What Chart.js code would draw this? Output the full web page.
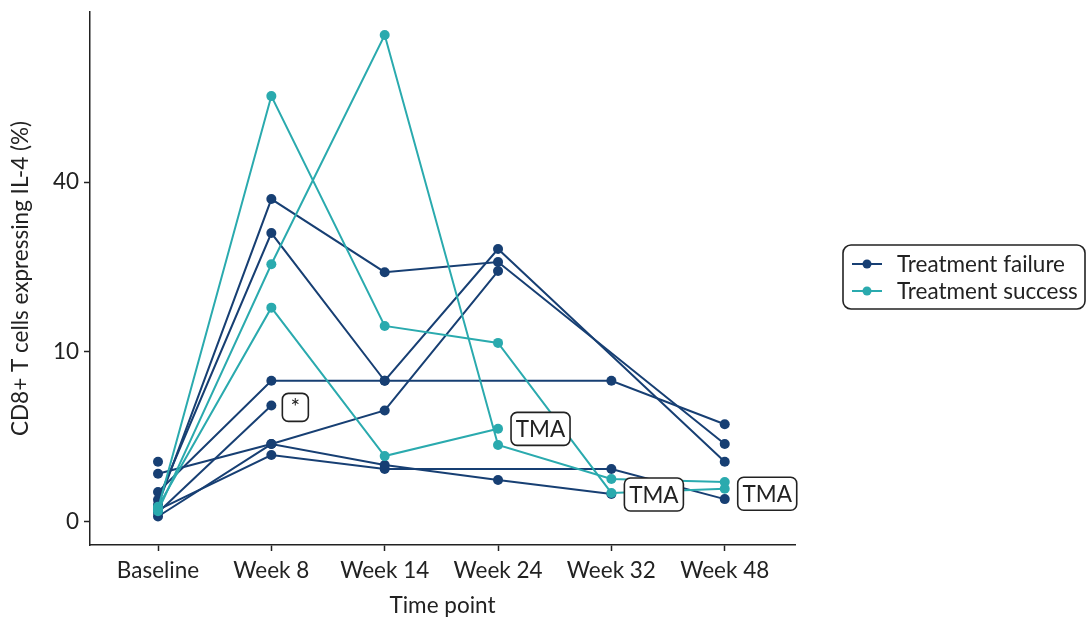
<!DOCTYPE html>
<html>
<head>
<meta charset="utf-8">
<script src="https://cdn.jsdelivr.net/npm/chart.js@4"></script>
<style>
  body { margin: 0; background: #fff; }
  #wrap { width: 1086px; height: 619px; position: relative; }
</style>
</head>
<body>
<div id="wrap"><canvas id="chart"></canvas></div>
<script>
const categories = ["Baseline", "Week 8", "Week 14", "Week 24", "Week 32", "Week 48"];
const yTickValues = [0, 10, 40];

// Treatment failure patients (null = no sample at that time point)
const failure1 = [0.10, 36.1, 21.6, 23.4, null, 2.1];
const failure2 = [0.17, 28.9, 6.9, 25.8, null, 1.25];
const failure3 = [0.31, 6.9, 6.9, null, 6.9, 3.3];
const failure4 = [0.03, 4.7];
const failure5 = [0.80, 2.1, 4.3, 21.8];
const failure6 = [0.01, 2.1, 1.12, 0.61, 0.27];
const failure7 = [0.05, 1.55, 0.97, null, 0.97, 0.18];
const failure8 = [1.25];

// Treatment success patients
const success1 = [0.06, 62.8, 13.3, 11.1, 0.29, 0.38];
const success2 = [0.04, 23.0, 82.1, 2.05, 0.64, 0.55];
const success3 = [0.08, 15.9, 1.5, 3.0];

const failureSeries = [failure1, failure2, failure3, failure4, failure5, failure6, failure7, failure8];
const successSeries = [success1, success2, success3];

// labels next to some points: series, time point index, text
const notes = [
    { series: failure4, idx: 1, text: "*" },
    { series: success3, idx: 3, text: "TMA" },
    { series: success1, idx: 4, text: "TMA" },
    { series: success1, idx: 5, text: "TMA" }
];

const navy = "#173f73";
const teal = "#2aaaae";
const ink = "#222222";
const fontFamily = "Lato, 'Noto Sans', sans-serif";
const fontSize = 22.5;

// y axis is square-root scaled; missing samples are skipped so the line joins across
function toPoints(vals) {
    var pts = [];
    vals.forEach((v, i) => { if (v != null) pts.push({ x: i, y: Math.sqrt(v) }); });
    return pts;
}

function makeSet(vals, colour, label, order) {
    return {
        label: label,
        data: toPoints(vals),
        borderColor: colour,
        backgroundColor: colour,
        borderWidth: 2,
        pointRadius: 5,
        pointBorderWidth: 0,
        pointHoverRadius: 5,
        order: order
    };
}

var datasets = [];
failureSeries.forEach(s => datasets.push(makeSet(s, navy, "Treatment failure", 1)));
successSeries.forEach(s => datasets.push(makeSet(s, teal, "Treatment success", 0)));

function roundRect(ctx, x, y, w, h, r) {
    ctx.beginPath();
    ctx.moveTo(x + r, y);
    ctx.arcTo(x + w, y, x + w, y + h, r);
    ctx.arcTo(x + w, y + h, x, y + h, r);
    ctx.arcTo(x, y + h, x, y, r);
    ctx.arcTo(x, y, x + w, y, r);
    ctx.closePath();
}

const extras = {
    id: "extras",
    afterDraw(chart) {
        const ctx = chart.ctx;
        const xs = chart.scales.x, ys = chart.scales.y;
        ctx.save();

        // point notes
        notes.forEach(n => {
            const px = xs.getPixelForValue(n.idx);
            const py = ys.getPixelForValue(Math.sqrt(n.series[n.idx]));
            ctx.font = fontSize + "px " + fontFamily;
            const isStar = n.text === "*";
            const w = isStar ? 26 : 59, h = isStar ? 28 : 33;
            const bx = px + (isStar ? 11 : 13);
            const by = py - h / 2 + (isStar ? 2 : (n.idx === 3 ? 0 : (n.idx === 4 ? 1.5 : 5)));
            roundRect(ctx, bx, by, w, h, 6);
            ctx.fillStyle = "#fff";
            ctx.fill();
            ctx.lineWidth = 1.6;
            ctx.strokeStyle = ink;
            ctx.stroke();
            ctx.fillStyle = ink;
            ctx.textAlign = "center";
            ctx.textBaseline = isStar ? "top" : "middle";
            ctx.fillText(n.text, bx + w / 2, isStar ? by + 3 : by + h / 2 + 1);
        });

        // legend
        const lx = chart.chartArea.right + 48, ly = 245;
        roundRect(ctx, lx, ly, 242, 64, 8);
        ctx.fillStyle = "#fff";
        ctx.fill();
        ctx.lineWidth = 1.6;
        ctx.strokeStyle = ink;
        ctx.stroke();
        [[navy, "Treatment failure"], [teal, "Treatment success"]].forEach((e, i) => {
            const cy = ly + 19 + i * 27;
            ctx.strokeStyle = e[0];
            ctx.lineWidth = 2;
            ctx.beginPath();
            ctx.moveTo(lx + 9, cy);
            ctx.lineTo(lx + 39, cy);
            ctx.stroke();
            ctx.fillStyle = e[0];
            ctx.beginPath();
            ctx.arc(lx + 24, cy, 4.5, 0, Math.PI * 2);
            ctx.fill();
            ctx.fillStyle = ink;
            ctx.font = fontSize + "px " + fontFamily;
            ctx.textAlign = "left";
            ctx.textBaseline = "middle";
            ctx.fillText(e[1], lx + 54, cy + 1);
        });
        ctx.restore();
    }
};

new Chart(document.getElementById("chart"), {
    type: "line",
    data: { datasets: datasets },
    plugins: [extras],
    options: {
        responsive: true,
        maintainAspectRatio: false,
        animation: false,
        events: [],
        layout: { padding: { top: 0, right: 291, bottom: 0, left: 0 } },
        plugins: { legend: { display: false }, tooltip: { enabled: false } },
        scales: {
            x: {
                type: "linear",
                min: -0.6,
                max: 5.62,
                afterBuildTicks: s => { s.ticks = categories.map((c, i) => ({ value: i })); },
                afterFit: s => { s.height = 74; },
                ticks: {
                    color: ink,
                    font: { family: fontFamily, size: fontSize },
                    padding: 6,
                    maxRotation: 0,
                    callback: v => categories[v]
                },
                grid: { drawOnChartArea: false, tickLength: 6, color: ink, tickWidth: 1.5 },
                border: { display: true, color: ink, width: 1.5 },
                title: {
                    display: true,
                    text: "Time point",
                    color: ink,
                    font: { family: fontFamily, size: fontSize },
                    padding: { top: 0, bottom: 0 }
                }
            },
            y: {
                type: "linear",
                min: -0.43,
                max: 9.49,
                afterBuildTicks: s => { s.ticks = yTickValues.map(v => ({ value: Math.sqrt(v) })); },
                afterFit: s => { s.width = 90; s.paddingTop = 12; s.paddingBottom = 0; },
                ticks: {
                    color: ink,
                    font: { family: fontFamily, size: fontSize },
                    padding: 5,
                    callback: v => String(Math.round(v * v))
                },
                grid: { drawOnChartArea: false, tickLength: 6, color: ink, tickWidth: 1.5 },
                border: { display: true, color: ink, width: 1.5 },
                title: {
                    display: true,
                    text: "CD8+ T cells expressing IL-4 (%)",
                    color: ink,
                    font: { family: fontFamily, size: fontSize },
                    padding: { top: 7, bottom: 0 }
                }
            }
        }
    }
});
</script>
</body>
</html>
